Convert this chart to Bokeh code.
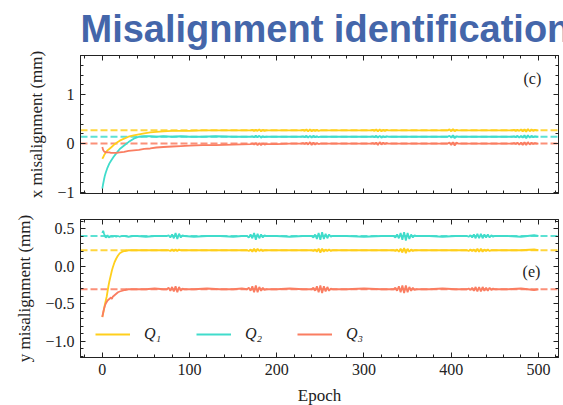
from bokeh.plotting import figure
from bokeh.models import (Range1d, LinearAxis, SingleIntervalTicker, Span, Label,
                          Legend, LegendItem, CustomJSTickFormatter, CustomLabelingPolicy)
from bokeh.layouts import column
from bokeh.embed import file_html
from bokeh.resources import INLINE

# ---------------- data ----------------
TITLE = "Misalignment identification"
SERIES = ["Q\u2081", "Q\u2082", "Q\u2083"]

EPOCH_X = [0, 1, 2, 3, 4, 6, 8, 10, 13, 16, 20, 25, 30, 36, 42, 48, 55, 62, 70, 80, 90, 100, 115, 130, 150,
           170, 172, 174, 176, 178, 180, 182, 184, 186, 188, 190,
           200, 215,
           228, 230, 232, 234, 236, 238, 240, 242, 244, 246, 248, 250, 252, 254,
           270, 290,
           308, 310, 312, 314, 316, 318, 320, 322, 324, 326, 328, 330,
           345, 360, 375,
           396, 398, 400, 402, 404, 406, 408,
           420, 440, 455,
           470, 472, 474, 476, 478, 480, 482, 484, 486, 488, 490, 492, 494, 496, 498, 500]

Q1_X = [-0.31, -0.28, -0.24, -0.21, -0.18, -0.14, -0.11, -0.08, -0.03, 0.01, 0.06, 0.10, 0.14, 0.17, 0.19, 0.21, 0.23, 0.24, 0.25, 0.26, 0.26, 0.26, 0.27, 0.27, 0.27,
        0.27, 0.28, 0.26, 0.28, 0.26, 0.29, 0.25, 0.28, 0.26, 0.27, 0.27,
        0.27, 0.27,
        0.27, 0.28, 0.26, 0.29, 0.25, 0.29, 0.25, 0.28, 0.26, 0.28, 0.26, 0.27, 0.27, 0.27,
        0.27, 0.27,
        0.27, 0.28, 0.26, 0.29, 0.25, 0.29, 0.25, 0.28, 0.26, 0.28, 0.27, 0.27,
        0.27, 0.27, 0.27,
        0.27, 0.29, 0.25, 0.30, 0.25, 0.28, 0.27,
        0.27, 0.27, 0.27,
        0.27, 0.28, 0.26, 0.28, 0.26, 0.29, 0.25, 0.29, 0.24, 0.30, 0.25, 0.29, 0.26, 0.28, 0.27, 0.27]

Q2_X = [-0.92, -0.82, -0.73, -0.65, -0.59, -0.49, -0.41, -0.35, -0.27, -0.20, -0.11, -0.04, 0.03, 0.10, 0.14, 0.15, 0.15, 0.14, 0.15, 0.14, 0.15, 0.14, 0.14, 0.15, 0.14,
        0.14, 0.15, 0.13, 0.16, 0.13, 0.16, 0.12, 0.15, 0.13, 0.14, 0.14,
        0.14, 0.14,
        0.14, 0.15, 0.13, 0.16, 0.12, 0.16, 0.12, 0.16, 0.13, 0.15, 0.13, 0.14, 0.14, 0.14,
        0.14, 0.14,
        0.14, 0.15, 0.13, 0.16, 0.12, 0.16, 0.12, 0.15, 0.13, 0.15, 0.14, 0.14,
        0.14, 0.14, 0.14,
        0.14, 0.16, 0.12, 0.17, 0.11, 0.15, 0.14,
        0.14, 0.14, 0.14,
        0.14, 0.15, 0.13, 0.16, 0.12, 0.16, 0.12, 0.17, 0.11, 0.17, 0.12, 0.16, 0.13, 0.15, 0.14, 0.14]

Q3_X = [-0.07, -0.13, -0.16, -0.17, -0.18, -0.18, -0.18, -0.19, -0.19, -0.19, -0.18, -0.17, -0.15, -0.14, -0.13, -0.11, -0.10, -0.08, -0.07, -0.06, -0.05, -0.04, -0.03, -0.03, -0.02,
        -0.01, 0.00, -0.02, 0.01, -0.03, 0.01, -0.03, 0.00, -0.02, -0.01, -0.01,
        -0.01, 0.00,
        0.00, 0.01, -0.01, 0.02, -0.02, 0.03, -0.03, 0.02, -0.02, 0.01, -0.01, 0.00, 0.00, 0.00,
        0.00, 0.00,
        0.00, 0.01, -0.01, 0.02, -0.03, 0.03, -0.02, 0.02, -0.01, 0.01, 0.00, 0.00,
        0.00, 0.00, 0.00,
        0.00, 0.02, -0.03, 0.03, -0.04, 0.02, 0.00,
        0.00, 0.00, 0.00,
        0.00, 0.01, -0.01, 0.02, -0.02, 0.02, -0.03, 0.03, -0.03, 0.03, -0.02, 0.02, -0.01, 0.01, 0.00, 0.00]

TARGET_X = [0.27, 0.14, 0.00]

EPOCH_Y = [0, 1, 2, 3, 4, 5, 6, 7, 8, 9, 10, 11, 12, 14, 16, 18, 20, 23, 26, 30, 35, 40, 50, 60, 70,
           74, 76, 78, 80, 82, 84, 86, 88, 90, 92, 94,
           105, 120, 135, 150, 160,
           166, 168, 170, 172, 174, 176, 178, 180, 182, 184, 186, 188,
           200, 215, 230,
           240, 242, 244, 246, 248, 250, 252, 254, 256, 258, 260, 262, 264,
           280, 300, 320,
           334, 336, 338, 340, 342, 344, 346, 348, 350, 352, 354, 356, 358, 360,
           375, 390, 405,
           418, 420, 422, 424, 426, 428, 430, 432, 434, 436, 438, 440, 442, 444, 446, 448, 450,
           465, 480, 495, 500]

Q1_Y = [-0.68, -0.63, -0.57, -0.51, -0.46, -0.41, -0.34, -0.27, -0.21, -0.16, -0.11, -0.06, -0.02, 0.05, 0.10, 0.14, 0.17, 0.19, 0.20, 0.21, 0.21, 0.21, 0.21, 0.21, 0.21,
        0.21, 0.21, 0.20, 0.22, 0.20, 0.22, 0.20, 0.22, 0.21, 0.21, 0.21,
        0.21, 0.21, 0.21, 0.21, 0.21,
        0.21, 0.20, 0.22, 0.19, 0.23, 0.19, 0.23, 0.20, 0.22, 0.20, 0.21, 0.21,
        0.21, 0.21, 0.21,
        0.21, 0.20, 0.22, 0.19, 0.23, 0.18, 0.23, 0.19, 0.22, 0.20, 0.22, 0.20, 0.21,
        0.21, 0.21, 0.21,
        0.21, 0.20, 0.22, 0.19, 0.23, 0.18, 0.24, 0.17, 0.23, 0.19, 0.22, 0.20, 0.21, 0.21,
        0.21, 0.21, 0.21,
        0.21, 0.20, 0.22, 0.20, 0.22, 0.19, 0.23, 0.19, 0.23, 0.19, 0.22, 0.20, 0.22, 0.20, 0.21, 0.21, 0.21,
        0.21, 0.21, 0.22, 0.21]

Q2_Y = [0.44, 0.47, 0.43, 0.40, 0.38, 0.39, 0.41, 0.39, 0.38, 0.40, 0.39, 0.40, 0.39, 0.40, 0.39, 0.40, 0.39, 0.40, 0.40, 0.39, 0.40, 0.40, 0.39, 0.40, 0.40,
        0.40, 0.41, 0.38, 0.42, 0.37, 0.44, 0.36, 0.43, 0.38, 0.41, 0.40,
        0.39, 0.40, 0.40, 0.39, 0.40,
        0.40, 0.38, 0.42, 0.37, 0.44, 0.35, 0.43, 0.37, 0.42, 0.38, 0.41, 0.40,
        0.40, 0.39, 0.40,
        0.40, 0.38, 0.42, 0.36, 0.44, 0.35, 0.45, 0.36, 0.43, 0.37, 0.42, 0.39, 0.40,
        0.40, 0.39, 0.40,
        0.40, 0.38, 0.42, 0.37, 0.44, 0.35, 0.45, 0.34, 0.44, 0.36, 0.42, 0.38, 0.41, 0.40,
        0.40, 0.39, 0.40,
        0.40, 0.39, 0.41, 0.38, 0.42, 0.37, 0.43, 0.37, 0.43, 0.37, 0.42, 0.38, 0.42, 0.38, 0.41, 0.39, 0.40,
        0.40, 0.39, 0.41, 0.40]

Q3_Y = [-0.68, -0.62, -0.57, -0.53, -0.50, -0.48, -0.46, -0.45, -0.44, -0.43, -0.42, -0.44, -0.41, -0.39, -0.37, -0.35, -0.34, -0.33, -0.32, -0.31, -0.31, -0.31, -0.31, -0.30, -0.31,
        -0.31, -0.29, -0.33, -0.28, -0.34, -0.27, -0.35, -0.28, -0.33, -0.30, -0.31,
        -0.31, -0.30, -0.31, -0.31, -0.30,
        -0.31, -0.29, -0.33, -0.27, -0.35, -0.26, -0.35, -0.28, -0.33, -0.29, -0.32, -0.31,
        -0.31, -0.30, -0.31,
        -0.31, -0.29, -0.33, -0.27, -0.35, -0.26, -0.36, -0.27, -0.34, -0.28, -0.33, -0.30, -0.31,
        -0.31, -0.30, -0.31,
        -0.31, -0.29, -0.33, -0.27, -0.35, -0.26, -0.36, -0.26, -0.35, -0.28, -0.33, -0.29, -0.32, -0.31,
        -0.31, -0.30, -0.31,
        -0.31, -0.30, -0.32, -0.29, -0.33, -0.28, -0.34, -0.28, -0.34, -0.28, -0.33, -0.29, -0.33, -0.29, -0.32, -0.30, -0.31,
        -0.31, -0.30, -0.32, -0.31]

TARGET_Y = [0.21, 0.40, -0.31]

# ---------------- styling ----------------
COLORS = ["#FFCF1C", "#40DCCB", "#FA7D61"]
SERIF = "Liberation Serif"
INK = "#222222"
X_RANGE = (-25, 523)


def make_axis(ticker, show_labels, formatter=None, label=None):
    ax = LinearAxis(ticker=ticker)
    if formatter is not None:
        ax.formatter = formatter
    ax.major_tick_in = 5
    ax.major_tick_out = 0
    ax.minor_tick_in = 3
    ax.minor_tick_out = 0
    ax.axis_line_color = INK
    ax.major_tick_line_color = INK
    ax.minor_tick_line_color = INK
    if show_labels:
        ax.major_label_text_font = SERIF
        ax.major_label_text_font_size = "16px"
        ax.major_label_text_color = INK
        ax.major_label_standoff = 6
    else:
        # mirrored tick axis: ticks only, no labels drawn and no room reserved
        ax.major_label_policy = CustomLabelingPolicy(code="return new Set()")
        ax.major_label_text_font_size = "0px"
        ax.major_label_standoff = 0
    if label:
        ax.axis_label = label
        ax.axis_label_text_font = SERIF
        ax.axis_label_text_font_size = "17px"
        ax.axis_label_text_font_style = "normal"
        ax.axis_label_text_color = INK
        ax.axis_label_standoff = 8
    return ax


def make_fig(y_range, top_border, bottom_border):
    p = figure(frame_width=478, frame_height=138,
               x_range=Range1d(*X_RANGE), y_range=Range1d(*y_range),
               x_axis_type=None, y_axis_type=None,
               output_backend="svg", toolbar_location=None,
               min_border_left=80, min_border_right=5,
               min_border_top=top_border, min_border_bottom=bottom_border)
    p.grid.visible = False
    p.outline_line_color = INK
    p.background_fill_color = "white"
    p.border_fill_color = "white"
    return p


fmt_int = CustomJSTickFormatter(code='return (tick < 0 ? "\\u2212" : "") + Math.abs(tick).toFixed(0);')
fmt_one = CustomJSTickFormatter(code='return (tick < -1e-9 ? "\\u2212" : "") + Math.abs(tick).toFixed(1);')

# ---------------- top panel (x misalignment) ----------------
p1 = make_fig((-1.02, 1.8), 55, 13)
p1.title.text = TITLE
p1.title.text_font = "Liberation Sans"
p1.title.text_font_style = "bold"
p1.title.text_font_size = "38px"
p1.title.text_color = "#4466AA"
p1.title.align = "left"
p1.title.standoff = 11

xt1 = SingleIntervalTicker(interval=100, num_minor_ticks=5)
yt1 = SingleIntervalTicker(interval=1, num_minor_ticks=5)
p1.add_layout(make_axis(xt1, False), "below")
p1.add_layout(make_axis(xt1, False), "above")
p1.add_layout(make_axis(yt1, True, fmt_int, "x misalignment (mm)"), "left")
p1.add_layout(make_axis(yt1, False), "right")

for tgt, col in zip(TARGET_X, COLORS):
    p1.add_layout(Span(location=tgt, dimension="width", line_color=col, line_width=2,
                       line_dash="7 3", line_alpha=0.85, level="underlay"))
for ys, col in zip([Q1_X, Q2_X, Q3_X], COLORS):
    p1.line(EPOCH_X, ys, line_color=col, line_width=1.8)

p1.add_layout(Label(x=493, y=1.33, text="(c)", text_font=SERIF, text_font_size="16px",
                    text_align="center", text_baseline="middle", text_color=INK))

# ---------------- bottom panel (y misalignment) ----------------
p2 = make_fig((-1.22, 0.62), 13, 48)
xt2 = SingleIntervalTicker(interval=100, num_minor_ticks=5)
yt2 = SingleIntervalTicker(interval=0.5, num_minor_ticks=5)
p2.add_layout(make_axis(xt2, True, None, "Epoch"), "below")
p2.add_layout(make_axis(xt2, False), "above")
p2.add_layout(make_axis(yt2, True, fmt_one, "y misalignment (mm)"), "left")
p2.add_layout(make_axis(yt2, False), "right")

for tgt, col in zip(TARGET_Y, COLORS):
    p2.add_layout(Span(location=tgt, dimension="width", line_color=col, line_width=2,
                       line_dash="7 3", line_alpha=0.85, level="underlay"))
renderers = []
for ys, col in zip([Q1_Y, Q2_Y, Q3_Y], COLORS):
    renderers.append(p2.line(EPOCH_Y, ys, line_color=col, line_width=1.8))

p2.add_layout(Label(x=492, y=-0.07, text="(e)", text_font=SERIF, text_font_size="16px",
                    text_align="center", text_baseline="middle", text_color=INK))

legend = Legend(items=[LegendItem(label=name, renderers=[r]) for name, r in zip(SERIES, renderers)],
                orientation="horizontal", location=(15, 14),
                border_line_color=None, background_fill_alpha=0,
                glyph_width=35, glyph_height=16, label_standoff=14, spacing=32,
                padding=0, margin=0,
                label_text_font=SERIF, label_text_font_style="italic",
                label_text_font_size="16px", label_text_color=INK)
p2.add_layout(legend)

layout = column(p1, p2, spacing=0)
open("out.html", "w").write(file_html(layout, INLINE))
